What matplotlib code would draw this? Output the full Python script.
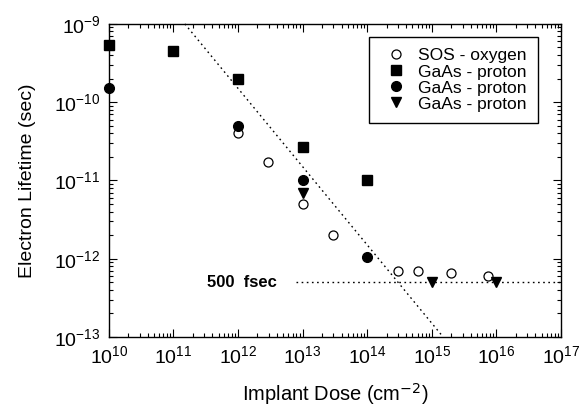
import matplotlib
matplotlib.use("Agg")
import matplotlib.pyplot as plt
from matplotlib.ticker import LogLocator, NullFormatter

plt.rcParams["font.family"] = ["Liberation Sans", "DejaVu Sans"]
plt.rcParams["axes.unicode_minus"] = False

# ── data ────────────────────────────────────────────────────
sos_dose = [1e12, 2.9e12, 1e13, 3e13, 3e14, 6e14, 2e15, 7.5e15]
sos_tau = [4e-11, 1.7e-11, 5e-12, 2e-12, 7e-13, 7e-13, 6.5e-13, 6e-13]

sq_dose = [1e10, 1e11, 1e12, 1e13, 1e14]
sq_tau = [5.4e-10, 4.5e-10, 2.0e-10, 2.7e-11, 1.0e-11]

ci_dose = [1e10, 1e12, 1e13, 1e14]
ci_tau = [1.5e-10, 5e-11, 1e-11, 1.05e-12]

tri_dose = [1e13, 1e15, 1e16]
tri_tau = [7e-12, 5e-13, 5e-13]

fit_dose = [1.5e11, 1.4e15]
fit_tau = [1e-9, 1.07e-13]

floor_dose = [8e12, 1e17]
floor_tau = [5e-13, 5e-13]

fig = plt.figure(figsize=(5.82, 4.12), dpi=100)
ax = fig.add_axes([0.187, 0.182, 0.777, 0.760])

ax.plot(fit_dose, fit_tau, ls=(0, (1.2, 2.5)), color="black", lw=1.0)
ax.plot(floor_dose, floor_tau, ls=(0, (1.2, 2.5)), color="black", lw=1.0)

ax.plot(sos_dose, sos_tau, "o", mfc="white", mec="black", mew=0.9, ms=6.5,
        ls="none", label="SOS - oxygen")
ax.plot(sq_dose, sq_tau, "s", color="black", ms=6.5, ls="none",
        label="GaAs - proton")
ax.plot(ci_dose, ci_tau, "o", color="black", ms=7, ls="none",
        label="GaAs - proton")
ax.plot(tri_dose, tri_tau, "v", color="black", ms=6.5, ls="none",
        label="GaAs - proton")

ax.text(10**12.6, 5e-13, "500  fsec", fontsize=12, fontweight="bold",
        ha="right", va="center")

ax.set_xscale("log")
ax.set_yscale("log")
ax.set_xlim(1e10, 1e17)
ax.set_ylim(1e-13, 1e-9)
for ln in ax.lines:
    ln.set_clip_on(False)

ax.xaxis.set_major_locator(LogLocator(base=10, numticks=20))
ax.yaxis.set_major_locator(LogLocator(base=10, numticks=20))
ax.xaxis.set_minor_locator(LogLocator(base=10, subs=range(2, 10), numticks=20))
ax.yaxis.set_minor_locator(LogLocator(base=10, subs=range(2, 10), numticks=20))
ax.xaxis.set_minor_formatter(NullFormatter())
ax.yaxis.set_minor_formatter(NullFormatter())

ax.tick_params(which="both", direction="in", top=True, right=True,
               labelsize=14, width=0.8)
ax.tick_params(which="major", length=6, pad=6)
ax.tick_params(which="minor", length=3, labelbottom=False, labelleft=False)
for sp in ax.spines.values():
    sp.set_linewidth(1.0)

ax.set_xlabel("Implant Dose (cm$^{-2}$)", fontsize=14.5, labelpad=10)
ax.set_ylabel("Electron Lifetime (sec)", fontsize=14, labelpad=13)

leg = ax.legend(loc="upper right", fontsize=12.5, frameon=True, fancybox=False,
                edgecolor="black", framealpha=1, handletextpad=0.3,
                labelspacing=0.05, borderpad=0.65, handlelength=1.9,
                bbox_to_anchor=(0.949, 0.958), borderaxespad=0)
leg.get_frame().set_linewidth(1.0)

fig.savefig("out.png", dpi=100)
